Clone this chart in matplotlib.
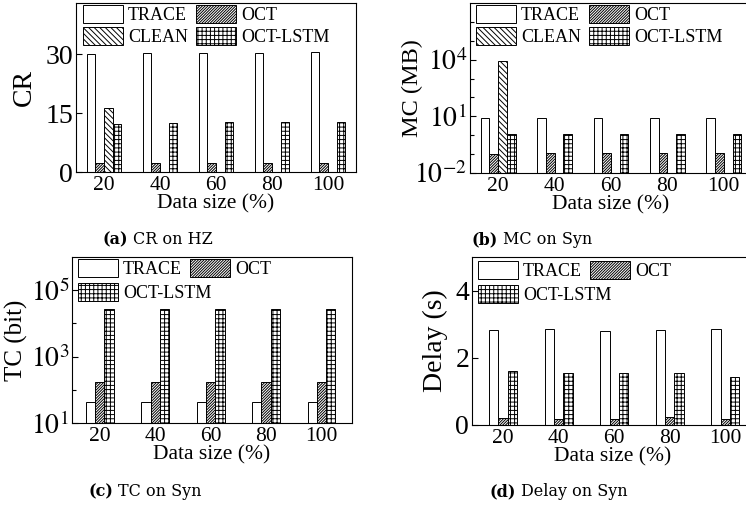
import numpy as np
import matplotlib
matplotlib.use('Agg')
import matplotlib.pyplot as plt
from matplotlib.patches import Patch

# data
sizes = ['20', '40', '60', '80', '100']

cr_trace = [30.1, 30.2, 30.3, 30.4, 30.5]
cr_oct = [2.4, 2.4, 2.4, 2.4, 2.4]
cr_clean = [16.4, np.nan, np.nan, np.nan, np.nan]
cr_lstm = [12.3, 12.4, 12.7, 12.7, 12.8]

mc_trace = [7.7, 7.7, 7.7, 7.7, 7.7]
mc_oct = [0.10, 0.12, 0.12, 0.12, 0.12]
mc_clean = [8500, np.nan, np.nan, np.nan, np.nan]
mc_lstm = [1.2, 1.2, 1.2, 1.2, 1.2]

tc_trace = [43, 43, 43, 43, 43]
tc_oct = [166, 166, 166, 166, 166]
tc_lstm = [27000, 27000, 27000, 27000, 27000]

dl_trace = [2.83, 2.85, 2.81, 2.83, 2.86]
dl_oct = [0.22, 0.19, 0.19, 0.24, 0.18]
dl_lstm = [1.61, 1.56, 1.56, 1.56, 1.42]

plt.rcParams['font.family'] = ['Liberation Serif', 'DejaVu Serif']
plt.rcParams['mathtext.fontset'] = 'stix'
plt.rcParams['hatch.linewidth'] = 0.7

hatches = {'TRACE': '', 'OCT': '////////////', 'CLEAN': '\\\\\\\\\\\\', 'OCT-LSTM': '++++'}

W, H = 746, 508
fig = plt.figure(figsize=(W / 100, H / 100), dpi=100)


def px_axes(l, t, r, b):
    return fig.add_axes([l / W, 1 - b / H, (r - l) / W, (b - t) / H])


def bars(ax, names, series, width):
    x = np.arange(len(sizes))
    n = len(names)
    for i, (name, vals) in enumerate(zip(names, series)):
        vals = np.asarray(vals, dtype=float)
        m = np.isfinite(vals)
        off = (i - (n - 1) / 2) * width
        ax.bar(x[m] + off, vals[m], width, color='white', edgecolor='black',
               linewidth=0.7, hatch=hatches[name])
    ax.set_xticks(x)
    ax.set_xticklabels(sizes)


def handle(name):
    return Patch(facecolor='white', edgecolor='black', linewidth=0.7, hatch=hatches[name])


def style(ax, ylabel, labx, labsize):
    ax.tick_params(axis='y', direction='in', length=4, width=0.8, labelsize=20, pad=2)
    ax.tick_params(axis='y', which='minor', direction='in', length=3, width=0.8)
    ax.tick_params(axis='x', length=0, labelsize=15.5, pad=3)
    for s in ax.spines.values():
        s.set_linewidth(0.8)
    ax.set_xlabel('Data size (%)', fontsize=15.5, labelpad=-1)
    ax.set_ylabel(ylabel, fontsize=labsize)
    ax.yaxis.set_label_coords(labx, 0.5)


leg_kw = dict(frameon=False, borderpad=0, borderaxespad=0, handlelength=2.2,
              handleheight=1.15, handletextpad=0.3, labelspacing=0.17,
              columnspacing=0.45, fontsize=13, loc='upper left')


def legend4(ax, x, y):
    names = ['TRACE', 'CLEAN', 'OCT', 'OCT-LSTM']
    ax.legend([handle(n) for n in names], names, ncol=2, bbox_to_anchor=(x, y), **leg_kw)


def legend3(ax, x, y, dy):
    top = ax.legend([handle('TRACE'), handle('OCT')], ['TRACE', 'OCT'], ncol=2,
                    bbox_to_anchor=(x, y), **leg_kw)
    ax.add_artist(top)
    ax.legend([handle('OCT-LSTM')], ['OCT-LSTM'], bbox_to_anchor=(x, y - dy), **leg_kw)


# (a) CR on HZ
ax = px_axes(76, 3, 356, 172)
bars(ax, ['TRACE', 'OCT', 'CLEAN', 'OCT-LSTM'], [cr_trace, cr_oct, cr_clean, cr_lstm], 0.155)
ax.set_xlim(-0.5, 4.5)
ax.set_ylim(0, 43)
ax.set_yticks([0, 15, 30])
style(ax, 'CR', -0.139, 20)
legend4(ax, 0.025, 0.988)

# (b) MC on Syn
ax = px_axes(470, 3, 752, 173)
ax.set_yscale('log')
bars(ax, ['TRACE', 'OCT', 'CLEAN', 'OCT-LSTM'], [mc_trace, mc_oct, mc_clean, mc_lstm], 0.155)
ax.set_xlim(-0.5, 4.5)
ax.set_ylim(1e-2, 1e7)
ax.set_yticks([1e-2, 1e1, 1e4])
ax.set_yticklabels([r'$10^{-2}$', r'$10^{1}$', r'$10^{4}$'])
ax.set_yticks([1e-1, 1e0, 1e2, 1e3, 1e5, 1e6], minor=True)
ax.set_yticklabels([], minor=True)
style(ax, 'MC (MB)', -0.167, 17.5)
legend4(ax, 0.021, 0.988)

# (c) TC on Syn
ax = px_axes(72, 257, 352, 423)
ax.set_yscale('log')
bars(ax, ['TRACE', 'OCT', 'OCT-LSTM'], [tc_trace, tc_oct, tc_lstm], 0.167)
ax.set_xlim(-0.5, 4.55)
ax.set_ylim(10, 1e6)
ax.set_yticks([1e1, 1e3, 1e5])
ax.set_yticklabels([r'$10^{1}$', r'$10^{3}$', r'$10^{5}$'])
ax.set_yticks([1e2, 1e4], minor=True)
ax.set_yticklabels([], minor=True)
style(ax, 'TC (bit)', -0.157, 18)
legend3(ax, 0.021, 0.988, 0.145)

# (d) Delay on Syn
ax = px_axes(472, 257, 753, 425)
bars(ax, ['TRACE', 'OCT', 'OCT-LSTM'], [dl_trace, dl_oct, dl_lstm], 0.167)
ax.set_xlim(-0.56, 4.5)
ax.set_ylim(0, 5)
ax.set_yticks([0, 2, 4])
style(ax, 'Delay (s)', -0.085, 20)
legend3(ax, 0.021, 0.976, 0.143)

# captions
caps = [('(a)', 'CR on HZ', 128, 240), ('(b)', 'MC on Syn', 498, 240),
        ('(c)', 'TC on Syn', 113, 492), ('(d)', 'Delay on Syn', 516, 492)]
for tag, txt, xr, yc in caps:
    fig.text(xr / W, 1 - yc / H, tag, ha='right', va='center', fontsize=11.5,
             fontweight='bold', family='DejaVu Serif')
    fig.text((xr + 5) / W, 1 - yc / H, txt, ha='left', va='center', fontsize=11.5,
             family='DejaVu Serif')

fig.savefig('out.png', dpi=100)
